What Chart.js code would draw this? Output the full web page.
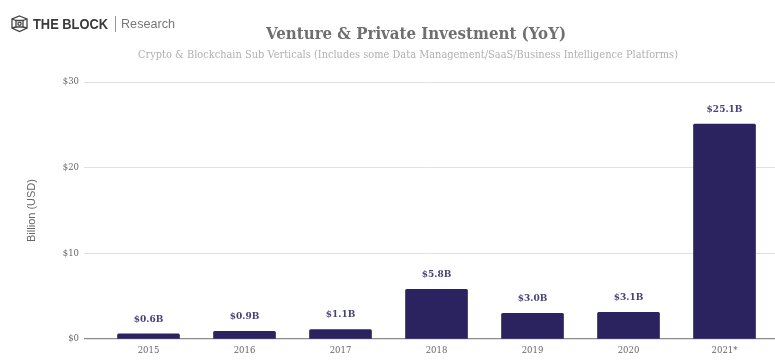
<!DOCTYPE html>
<html><head><meta charset="utf-8">
<style>
html,body{margin:0;padding:0;background:#fff;width:775px;height:363px;overflow:hidden}
#wrap{position:relative;width:775px;height:363px;filter:blur(.3px)}
canvas{position:absolute;left:0;top:0}
.t{position:absolute;white-space:nowrap;line-height:1}
#title{left:266px;top:23px;font:bold 17px "DejaVu Serif";color:#6f6f6f;transform-origin:0 0}
#sub{left:138px;top:48px;font:11px "DejaVu Serif";color:#b0b0b0;transform-origin:0 0}
#brand{left:33px;top:16px;font:bold 14px "Liberation Sans";color:#3a3a3a}
#res{left:121px;top:16px;font:13.5px "Liberation Sans";color:#777}
#sep{position:absolute;left:115px;top:16px;width:1px;height:16px;background:#999}
svg{position:absolute;left:10px;top:14px}
</style></head><body>
<div id="wrap">
<canvas id="c" width="775" height="363"></canvas>
<svg width="19" height="19" viewBox="0 0 19 19" fill="none" stroke="#444" stroke-width="1.3">
<path d="M9.5 2L17 5v9l-7.5 3.5L2 14V5z"/><path d="M6 6.5h7v6.5H6z"/><path d="M2 5l4 1.5M17 5l-4 1.5M2 14l4-1M17 14l-4-1"/><circle cx="9.5" cy="9.7" r="1.6"/>
</svg>
<div class="t" id="brand">THE BLOCK</div><div id="sep"></div><div class="t" id="res">Research</div>
<div class="t" id="title">Venture &amp; Private Investment (YoY)</div>
<div class="t" id="sub">Crypto &amp; Blockchain Sub Verticals (Includes some Data Management/SaaS/Business Intelligence Platforms)</div>
</div>
<script src="https://cdn.jsdelivr.net/npm/chart.js@4"></script>
<script>
const categories = ["2015","2016","2017","2018","2019","2020","2021*"];
const investment = [0.6,0.9,1.1,5.8,3.0,3.1,25.1];
const yTicks = [0,10,20,30];
const serif = "DejaVu Serif";

// fit title texts to the widths of the original typeface
for (const [id,w] of [["title",300],["sub",540],["brand",75],["res",54]]) {
  const el=document.getElementById(id);
  el.style.transformOrigin="0 0";
  el.style.transform="scaleX("+(w/el.getBoundingClientRect().width)+")";
}

const barLabels = {
  id:"barLabels",
  afterDatasetsDraw(chart){
    const ctx=chart.ctx, meta=chart.getDatasetMeta(0);
    ctx.save();
    ctx.font="bold 9px '"+serif+"'";
    ctx.fillStyle="#47427a";
    ctx.textAlign="center";
    ctx.textBaseline="middle";
    meta.data.forEach((b,i)=>{
      ctx.fillText("$"+investment[i].toFixed(1)+"B", b.x, b.y-14.5);
    });
    ctx.restore();
  }
};

new Chart(document.getElementById("c"),{
  type:"bar",
  data:{datasets:[{
    data:investment.map((v,i)=>({x:i,y:v})),
    backgroundColor:"#2b2360",
    borderRadius:1.5,
    borderSkipped:"bottom",
    barThickness:62
  }]},
  options:{
    responsive:false,
    animation:false,
    layout:{padding:{top:82,left:0,right:0,bottom:0}},
    plugins:{legend:{display:false},title:{display:false},tooltip:{enabled:false}},
    scales:{
      x:{
        type:"linear",
        offset:false,
        min:-0.672,
        max:6.526,
        grid:{display:false},
        border:{display:false},
        afterFit(s){s.height=24},
        afterBuildTicks(s){s.ticks=categories.map((_,i)=>({value:i}))},
        ticks:{
          autoSkip:false,maxRotation:0,padding:-1,
          font:{family:serif,size:8.5},color:"#666",
          callback:v=>categories[v]
        }
      },
      y:{
        min:0,max:30,
        grid:{drawTicks:false,color:c=>c.tick.value===0?"#8c8c8c":"#e2e2e2",lineWidth:c=>c.tick.value===0?1.2:1},
        border:{display:false},
        afterFit(s){s.width=84},
        afterBuildTicks(s){s.ticks=yTicks.map(v=>({value:v}))},
        title:{display:true,text:"Billion (USD)",color:"#666",font:{family:"Liberation Sans",size:11},padding:{top:25,bottom:0}},
        ticks:{padding:5,font:{family:serif,size:8.5},color:"#666",callback:v=>"$"+v}
      }
    }
  },
  plugins:[barLabels]
});
</script>
</body></html>
